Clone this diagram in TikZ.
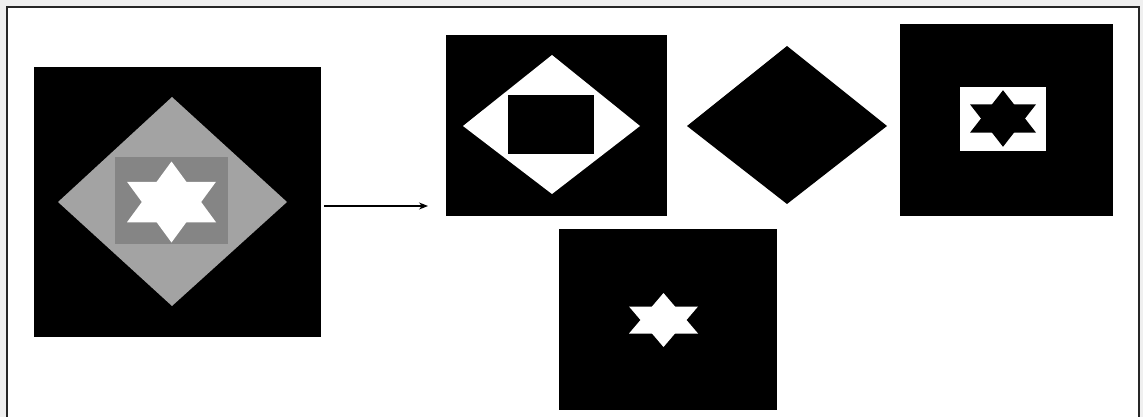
\documentclass[tikz,border=0pt]{standalone}
\usetikzlibrary{arrows.meta}
\definecolor{diamgray}{HTML}{A3A3A3}
\definecolor{rectgray}{HTML}{858585}
\definecolor{pagegray}{HTML}{EFEFEF}
\newcommand\HexStar[5]{%
  \fill[#5] (#1,#2-#3) -- (#1-#4,#2+#3/2) -- (#1+#4,#2+#3/2) -- cycle;
  \fill[#5] (#1,#2+#3) -- (#1-#4,#2-#3/2) -- (#1+#4,#2-#3/2) -- cycle;}
\begin{document}
\begin{tikzpicture}[x=1pt,y=-1pt,
  panel/.style={fill=black,draw=none,inner sep=0pt,outer sep=0pt},
  connector/.style={line width=1.1pt,-{Stealth[length=9pt,width=7pt]}},
  frameline/.style={line width=1.5pt,black!85}]
\useasboundingbox (0,0) rectangle (1143,417);
\fill[pagegray] (0,0) rectangle (1143,417);
\fill[white] (7,7) rectangle (1139,417);
\draw[frameline] (7,417) -- (7,7) -- (1139,7) -- (1139,417);

% input image
\node[panel,minimum width=287pt,minimum height=270pt] (big) at (177.5,202) {};
\fill[diamgray] (172,97) -- (287,202) -- (172,306) -- (58,202) -- cycle;
\fill[rectgray] (115,157) rectangle (228,244);
\HexStar{171.5}{202}{40.5}{44.5}{white}

% arrow
\coordinate (astart) at (324,206);
\coordinate (aend) at (428,206);
\draw[connector] (astart) -- (aend);

% top-middle panel
\node[panel,minimum width=221pt,minimum height=181pt] (p1) at (556.5,125.5) {};
\fill[white] (552,55) -- (640,126) -- (552,194) -- (463,126) -- cycle;
\fill[black] (508,95) rectangle (594,154);

% black diamond
\node[draw=none,inner sep=0pt] (p2) at (787,125) {};
\fill[black] (787,46) -- (887,126) -- (787,204) -- (687,126) -- cycle;

% top-right panel
\node[panel,minimum width=213pt,minimum height=192pt] (p3) at (1006.5,120) {};
\fill[white] (960,87) rectangle (1046,151);
\HexStar{1003}{118.5}{28.3}{33}{black}

% bottom panel
\node[panel,minimum width=218pt,minimum height=181pt] (p4) at (668,319.5) {};
\HexStar{663.5}{320}{27}{34.5}{white}
\end{tikzpicture}
\end{document}
